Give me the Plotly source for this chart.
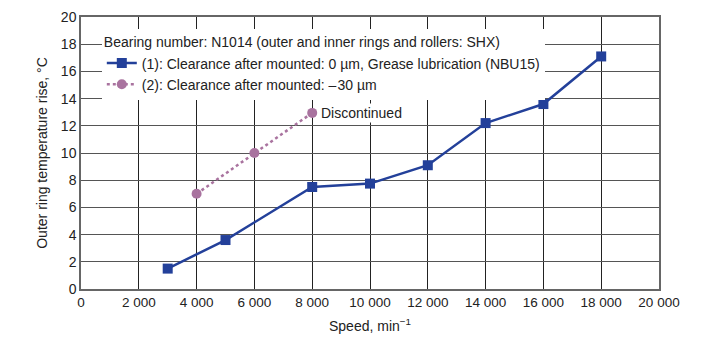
import plotly.graph_objects as go

# Series (1): clearance after mounted 0 um, grease lubrication
speed_1 = [3000, 5000, 8000, 10000, 12000, 14000, 16000, 18000]
temp_1 = [1.5, 3.6, 7.5, 7.75, 9.1, 12.2, 13.6, 17.1]

# Series (2): clearance after mounted -30 um
speed_2 = [4000, 6000, 8000]
temp_2 = [7.0, 10.0, 12.95]

x_ticks = [0, 2000, 4000, 6000, 8000, 10000, 12000, 14000, 16000, 18000, 20000]
x_tick_text = ["0", "2 000", "4 000", "6 000", "8 000", "10 000", "12 000",
               "14 000", "16 000", "18 000", "20 000"]
y_ticks = list(range(0, 21, 2))

blue = "#23409a"
mauve = "#a9739f"
font_family = "Liberation Sans, Arial, sans-serif"

fig = go.Figure()

fig.add_trace(go.Scatter(
    x=speed_1, y=temp_1, mode="lines+markers",
    name="(1): Clearance after mounted: 0 \u00b5m, Grease lubrication (NBU15)",
    line=dict(color=blue, width=2.5),
    marker=dict(symbol="square", size=10, color=blue),
))

fig.add_trace(go.Scatter(
    x=speed_2, y=temp_2, mode="lines+markers",
    name="(2): Clearance after mounted: \u2013\u200a30 \u00b5m",
    line=dict(color=mauve, width=2.5, dash="dot"),
    marker=dict(symbol="circle", size=10, color=mauve),
))

# label at the last point of series (2), on a white patch over the grid
fig.add_annotation(
    x=speed_2[-1], y=temp_2[-1], text="Discontinued",
    showarrow=False, xanchor="left", yanchor="middle", xshift=7,
    bgcolor="white", borderpad=1,
    font=dict(size=14, color="#222"),
)

fig.update_layout(
    width=712, height=337,
    margin=dict(l=81, r=53, t=17, b=48, autoexpand=False),
    paper_bgcolor="white", plot_bgcolor="white",
    font=dict(family=font_family, size=14, color="#222"),
    legend=dict(
        title=dict(text="Bearing number: N1014 (outer and inner rings and rollers: SHX)",
                   side="top", font=dict(size=14)),
        x=0.036, y=0.955, xanchor="left", yanchor="top",
        bgcolor="white", borderwidth=0,
        font=dict(size=14), itemwidth=30, tracegroupgap=0,
    ),
)

fig.update_xaxes(
    range=[0, 20000], tickvals=x_ticks, ticktext=x_tick_text,
    showgrid=True, gridcolor="#222", gridwidth=1,
    showline=True, linecolor="#666", linewidth=1.5, mirror=True,
    zeroline=False, ticks="", tickfont=dict(size=13.5), automargin=False,
    ticklabeloverflow="allow",
    title=dict(text="Speed, min<sup>\u22121</sup>", font=dict(size=14), standoff=12),
)
fig.update_yaxes(
    range=[0, 20], tickvals=y_ticks,
    showgrid=True, gridcolor="#555", gridwidth=1.2,
    showline=True, linecolor="#666", linewidth=1.5, mirror=True,
    zeroline=False, ticks="", tickfont=dict(size=14), automargin=False,
    title=dict(text="Outer ring temperature rise, \u00b0C", font=dict(size=14), standoff=10),
)

# drop the page's default body margin so the figure fills the window
fig.write_html("out.html", config={"displayModeBar": False},
               post_script="document.body.style.margin='0';")
